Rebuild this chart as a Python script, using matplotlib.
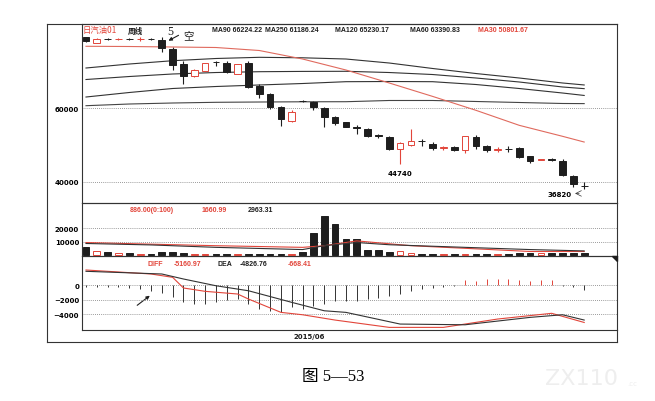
import numpy as np
import matplotlib.pyplot as plt
from matplotlib.lines import Line2D
from matplotlib.patches import Polygon

W, H = 655, 402

# weekly bars 日汽油01 (open, high, low, close)
opens = [79200, 77600, 78750, 78550, 78750, 78600, 78700, 78460, 75950, 71890,
         68570, 70080, 72400, 72080, 69190, 72080, 66030, 63780, 60190, 56400,
         62000, 61540, 59920, 57650, 56140, 54900, 54320, 52600, 52240, 48920,
         50080, 51100, 50270, 49300, 49540, 48730, 52240, 49810, 48650, 49000,
         49110, 46950, 45950, 46100, 45760, 41700, 39050]
highs = [79300, 78800, 78850, 78800, 78850, 79300, 78850, 79110, 76400, 72780,
         70540, 72160, 72620, 72780, 72000, 72780, 66490, 64050, 60540, 59460,
         62200, 61970, 60270, 57970, 56350, 55410, 54590, 52970, 52430, 50810,
         54320, 51620, 50720, 49810, 49730, 52430, 52700, 50000, 49380, 49810,
         49380, 47030, 46200, 46410, 46220, 41890, 39920]
lows = [77900, 77500, 78500, 78450, 78500, 78000, 78500, 75050, 70350, 66490,
        68380, 70000, 71430, 69500, 69100, 65500, 62620, 59730, 55140, 56220,
        61600, 59540, 54780, 55540, 54730, 52970, 52080, 51890, 48780, 44740,
        49810, 49810, 48730, 48730, 48380, 47840, 48920, 48190, 48030, 48190,
        46410, 45140, 45900, 45680, 41700, 38570, 38110]
closes = [78100, 78700, 78600, 78700, 78600, 78700, 78600, 76140, 71700, 68570,
          70350, 72080, 72300, 69650, 71890, 65590, 63780, 60190, 57030, 58840,
          61800, 60190, 57490, 55950, 54950, 54700, 52350, 52450, 48920, 50540,
          51160, 50950, 49190, 49450, 48650, 52350, 49810, 48650, 48800, 48850,
          46680, 45760, 46100, 45950, 41890, 39460, 38950]
volume = [5900, 3000, 2300, 1800, 1300, 600, 700, 2000, 2300, 1300,
          700, 700, 700, 700, 700, 700, 700, 700, 700, 700,
          2000, 16560, 28700, 22700, 11780, 11780, 3430, 3430, 2300, 3000,
          1800, 860, 860, 700, 700, 700, 700, 700, 700, 700,
          1400, 1400, 1600, 1400, 1600, 1800, 1800]
macd = [-230, -280, -320, -280, -410, -550, -780, -1150, -1700, -2390,
        -2620, -2620, -2390, -2070, -1930, -2620, -3310, -3540, -3770, -3080,
        -3310, -2850, -2620, -2200, -2250, -2160, -1930, -1790, -1470, -1240,
        -780, -550, -410, -230, -100, 690, 500, 830, 830, 830,
        690, 500, 690, 690, -100, -230, -668.41]

# moving averages, read at every fourth week
ma_idx = [0, 4, 8, 12, 16, 20, 24, 28, 32, 36, 40, 44, 46]
ma90 = [70810, 71890, 72780, 73380, 73700, 73570, 73240, 72160, 70680, 69320, 68110, 66760, 66224.22]
ma120 = [67700, 68510, 69190, 69590, 69810, 69890, 69920, 69590, 69050, 68110, 67030, 65680, 65230.17]
ma60 = [62970, 64190, 65270, 65810, 66220, 66620, 67110, 67160, 67110, 66350, 65270, 64050, 63390.83]
ma250 = [60620, 61080, 61350, 61540, 61620, 61680, 61700, 62030, 62030, 61760, 61490, 61220, 61186.24]
ma30 = [76680, 76620, 76490, 76350, 75540, 73240, 70270, 66760, 63140, 59380, 55320, 52350, 50801.67]

vma_red_idx = [0, 6, 12, 20, 22, 25, 30, 35, 41, 46]
vma_red = [9280, 8070, 6930, 5710, 6930, 10500, 6930, 5000, 2640, 2640]
vma_blk_idx = [0, 6, 12, 20, 22, 25, 28, 35, 41, 46]
vma_blk = [8570, 7500, 5710, 4070, 6930, 9280, 7640, 5710, 4070, 3070]

diff_idx = [0, 6, 8, 9, 11, 14, 15, 18, 20, 23, 28, 33, 38, 43, 46]
diff = [2070, 1520, 1060, -410, -870, -1240, -1930, -3770, -4100, -4830, -5840, -5840, -4690, -3900, -5160.97]
dea_idx = [0, 7, 9, 12, 15, 19, 22, 24, 29, 35, 41, 44, 46]
dea = [1890, 1520, 830, -100, -790, -2390, -3550, -3770, -5380, -5480, -4460, -4100, -4826.76]

RED = '#e2453a'
BLK = '#1e1e1e'
GRID = '#7a7a7a'

fig = plt.figure(figsize=(W / 100, H / 100), dpi=100)
fig.patch.set_facecolor('white')


def fx(x):
    return x / W


def fy(y):
    return 1 - y / H


def panel(top, bottom):
    a = fig.add_axes([fx(82), fy(bottom), fx(617) - fx(82), fy(top) - fy(bottom)])
    a.set_xlim(-0.37, 49.03)
    a.set_xticks([])
    a.set_facecolor('none')
    for s in a.spines.values():
        s.set_color('#333333')
        s.set_linewidth(0.8)
    a.tick_params(axis='y', length=0, pad=2, labelsize=5)
    a.grid(axis='y', color=GRID, linestyle=(0, (1, 1.5)), linewidth=0.6)
    a.set_axisbelow(True)
    return a


ax = panel(25, 204)
axv = panel(204, 257)
axm = panel(257, 331)

idx = np.arange(len(opens))
up = np.array(closes) >= np.array(opens)
col = [RED if u else BLK for u in up]
face = ['white' if u else BLK for u in up]

# candles
ax.vlines(idx, lows, highs, colors=col, linewidth=0.8, zorder=2)
body_lo = np.minimum(opens, closes)
body_h = np.abs(np.array(closes) - np.array(opens))
ax.bar(idx, body_h, bottom=body_lo, width=0.62, color=face, edgecolor=col,
       linewidth=0.7, zorder=3)
ax.plot(ma_idx, ma90, color='#333333', lw=0.8)
ax.plot(ma_idx, ma120, color='#333333', lw=0.8)
ax.plot(ma_idx, ma60, color='#333333', lw=0.8)
ax.plot(ma_idx, ma250, color='#444444', lw=0.8)
ax.plot(ma_idx, ma30, color='#e06a5e', lw=0.8)
ax.set_ylim(34324, 82703)
ax.set_yticks([40000, 60000])

ax.text(29, 44740 - 1400, '44740', fontsize=5, fontweight='bold', ha='center', va='top')
ax.text(44.8, 38110 - 500, '36820', fontsize=5, fontweight='bold', ha='right', va='top')
ax.annotate('', xy=(44.9, 38110 - 1200), xytext=(45.8, 38110 - 1200),
            arrowprops=dict(arrowstyle='->', color='#333333', lw=0.5))

# volume
axv.bar(idx, volume, width=0.62, color=face, edgecolor=col, linewidth=0.7, zorder=3)
axv.plot(vma_red_idx, vma_red, color=RED, lw=0.8, zorder=4)
axv.plot(vma_blk_idx, vma_blk, color='#333333', lw=0.8, zorder=4)
axv.set_ylim(-700, 38570)
axv.set_yticks([10000, 20000])

# macd
mcol = [RED if m > 0 else '#333333' for m in macd]
axm.vlines(idx, 0, macd, colors=mcol, linewidth=0.7)
axm.plot(diff_idx, diff, color=RED, lw=0.8)
axm.plot(dea_idx, dea, color='#333333', lw=0.8)
axm.set_ylim(-6200, 4000)
axm.set_yticks([-4000, -2000, 0])

for a in (ax, axv, axm):
    for lab in a.get_yticklabels():
        lab.set_fontweight('bold')

# outer frame
for (x1, y1, x2, y2) in [(47, 25, 617, 25), (47, 25, 47, 343), (47, 343, 617, 343),
                         (617, 331, 617, 343)]:
    fig.add_artist(Line2D([fx(x1), fx(x2)], [fy(y1), fy(y2)], color='#333333', lw=0.8))
fig.add_artist(Polygon([[fx(612), fy(257)], [fx(617), fy(257)], [fx(617), fy(262)]],
                       closed=True, color=BLK, transform=fig.transFigure))

# header texts
cjk = ['Noto Sans CJK SC', 'DejaVu Sans']
fig.text(fx(83), fy(31), '日汽油01', color=RED, fontsize=6, family=cjk, va='center')
fig.text(fx(128), fy(31), '周线', color=BLK, fontsize=5.5, family=cjk,
         fontweight='bold', va='center')
fig.text(fx(170), fy(32), '5', color=BLK, fontsize=8.5, va='center', ha='center',
         family='Liberation Serif')
fig.text(fx(188), fy(36), '空', color=BLK, fontsize=7.5, va='center', ha='center', family=cjk)
ax.annotate('', xy=(fx(166), fy(43)), xytext=(fx(181), fy(35)), xycoords='figure fraction',
            textcoords='figure fraction',
            arrowprops=dict(arrowstyle='-|>', color=BLK, lw=0.8, mutation_scale=5))

hdr = dict(fontsize=5, fontweight='bold', va='center', family='Liberation Sans')
fig.text(fx(212), fy(30), 'MA90 66224.22', color=BLK, **hdr)
fig.text(fx(265), fy(30), 'MA250 61186.24', color=BLK, **hdr)
fig.text(fx(335), fy(30), 'MA120 65230.17', color=BLK, **hdr)
fig.text(fx(410), fy(30), 'MA60 63390.83', color=BLK, **hdr)
fig.text(fx(478), fy(30), 'MA30 50801.67', color=RED, **hdr)

fig.text(fx(130), fy(211), '886.00(0:100)', color=RED, **hdr)
fig.text(fx(202), fy(211), '1660.99', color=RED, **hdr)
fig.text(fx(248), fy(211), '2963.31', color=BLK, **hdr)

fig.text(fx(148), fy(264), 'DIFF', color=RED, **hdr)
fig.text(fx(174), fy(264), '-5160.97', color=RED, **hdr)
fig.text(fx(217), fy(264), 'DEA', color=BLK, **hdr)
fig.text(fx(240), fy(264), '-4826.76', color=BLK, **hdr)
fig.text(fx(288), fy(264), '-668.41', color=RED, **hdr)

ax.annotate('', xy=(fx(152), fy(295)), xytext=(fx(135), fy(308)), xycoords='figure fraction',
            textcoords='figure fraction',
            arrowprops=dict(arrowstyle='-|>', color=BLK, lw=0.8, mutation_scale=5))

fig.text(fx(309), fy(337), '2015/06', color=BLK, fontsize=5, fontweight='bold',
         ha='center', va='center')

# caption and watermark
fig.text(fx(333), fy(377), '图 5—53', fontsize=12, ha='center', va='center',
         family=['Liberation Serif', 'Noto Sans CJK SC'])
fig.text(fx(582), fy(379), 'ZX110', fontsize=16, color='#eeeeee', ha='center', va='center')
fig.text(fx(627), fy(384), '.cc', fontsize=5, color='#eeeeee', ha='left', va='center')

fig.savefig('out.png', dpi=100)
